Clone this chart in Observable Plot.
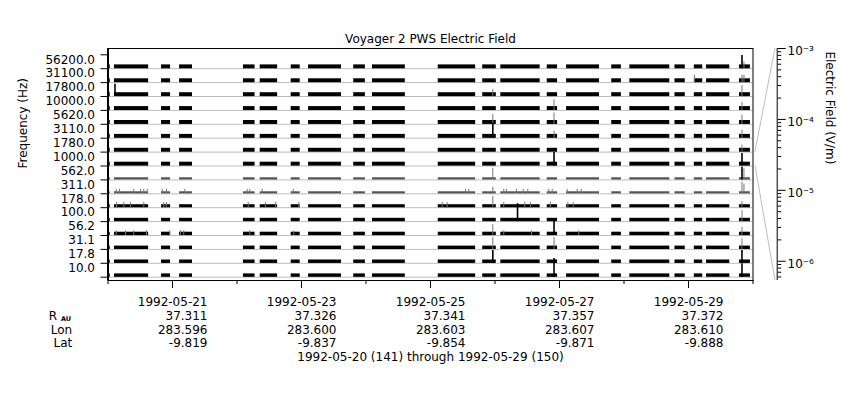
<!DOCTYPE html>
<html><head><meta charset="utf-8">
<script src="https://cdn.jsdelivr.net/npm/d3@7"></script>
<script src="https://cdn.jsdelivr.net/npm/@observablehq/plot@0.6"></script>
<style>
body{margin:0;background:#fff;font-family:"DejaVu Sans",sans-serif}
#chart{position:relative;width:860px;height:400px}
#chart > svg{position:absolute;left:0;top:0}
</style>
</head><body><div id="chart"></div>
<script>
// ---------- data ----------
const title = "Voyager 2 PWS Electric Field";
const yLabel = "Frequency (Hz)";
const zLabel = "Electric Field (V/m)";
const footer = "1992-05-20 (141) through 1992-05-29 (150)";
const timeDomain = ["1992-05-20T00:00Z", "1992-05-30T00:00Z"];
const fieldDomain = [5.35e-7, 1e-3];
const fieldMajor = [1e-6, 1e-5, 1e-4, 1e-3];
const refChannel = "1000.0";

const channels = ["56200.0","31100.0","17800.0","10000.0","5620.0","3110.0","1780.0","1000.0",
                  "562.0","311.0","178.0","100.0","56.2","31.1","17.8","10.0"];
const bandHigh = [4.2e-6,4.2e-6,4.2e-6,4.2e-6,4.2e-6,4.2e-6,4.2e-6,4.2e-6,
                  1.7e-6,1.6e-6,2.7e-6,3.2e-6,3.2e-6,3.2e-6,3.2e-6,3.2e-6];
const bandLow = 5e-7;

const segStart = ["1992-05-20T00:00Z","1992-05-20T02:24Z","1992-05-20T19:55Z","1992-05-21T02:38Z",
  "1992-05-22T02:24Z","1992-05-22T08:38Z","1992-05-22T20:10Z","1992-05-23T02:38Z","1992-05-23T19:26Z",
  "1992-05-24T02:24Z","1992-05-25T02:53Z","1992-05-25T19:26Z","1992-05-26T02:10Z","1992-05-26T19:26Z",
  "1992-05-27T02:38Z","1992-05-27T19:26Z","1992-05-28T02:10Z","1992-05-28T18:58Z","1992-05-29T02:10Z",
  "1992-05-29T06:43Z","1992-05-29T18:58Z"];
const segEnd = ["1992-05-20T00:50Z","1992-05-20T15:07Z","1992-05-20T23:17Z","1992-05-21T07:26Z",
  "1992-05-22T06:43Z","1992-05-22T15:07Z","1992-05-22T23:31Z","1992-05-23T14:53Z","1992-05-23T23:46Z",
  "1992-05-24T14:38Z","1992-05-25T16:48Z","1992-05-26T00:29Z","1992-05-26T16:48Z","1992-05-26T23:17Z",
  "1992-05-27T14:53Z","1992-05-27T23:02Z","1992-05-28T17:02Z","1992-05-28T22:48Z","1992-05-29T05:17Z",
  "1992-05-29T15:22Z","1992-05-29T23:02Z"];

const spikeTime = [
  "1992-05-20T02:36Z",
  "1992-05-25T23:11Z","1992-05-25T23:11Z","1992-05-25T23:11Z","1992-05-25T23:11Z","1992-05-25T23:11Z",
  "1992-05-25T23:11Z","1992-05-25T23:11Z","1992-05-25T23:11Z","1992-05-25T23:11Z",
  "1992-05-26T08:23Z",
  "1992-05-26T21:58Z","1992-05-26T21:58Z","1992-05-26T21:58Z","1992-05-26T21:58Z","1992-05-26T21:58Z",
  "1992-05-26T21:58Z","1992-05-26T21:58Z",
  "1992-05-29T02:14Z",
  "1992-05-29T19:54Z","1992-05-29T19:54Z","1992-05-29T19:54Z","1992-05-29T19:54Z","1992-05-29T19:54Z",
  "1992-05-29T19:54Z","1992-05-29T19:54Z","1992-05-29T19:54Z","1992-05-29T19:54Z","1992-05-29T19:54Z",
  "1992-05-29T19:54Z","1992-05-29T19:54Z","1992-05-29T19:54Z","1992-05-29T19:54Z","1992-05-29T19:54Z",
  "1992-05-29T19:54Z",
  "1992-05-29T20:38Z","1992-05-29T20:38Z","1992-05-29T20:38Z","1992-05-29T20:38Z",
  // small ticks, 311 Hz
  "1992-05-20T03:03Z","1992-05-20T04:17Z","1992-05-20T09:36Z","1992-05-20T12:06Z","1992-05-20T13:19Z",
  "1992-05-20T14:35Z","1992-05-20T20:10Z","1992-05-20T21:46Z","1992-05-21T04:35Z","1992-05-22T03:48Z",
  "1992-05-22T04:45Z","1992-05-22T09:23Z","1992-05-22T20:54Z","1992-05-25T13:02Z","1992-05-25T14:15Z",
  "1992-05-26T03:16Z","1992-05-26T04:16Z","1992-05-26T07:59Z","1992-05-26T10:29Z","1992-05-26T12:12Z",
  "1992-05-26T20:01Z","1992-05-26T21:17Z","1992-05-27T02:51Z","1992-05-27T06:35Z","1992-05-27T08:04Z",
  // small ticks, 178 Hz
  "1992-05-20T03:10Z","1992-05-20T05:53Z","1992-05-20T08:22Z","1992-05-20T13:19Z","1992-05-20T20:46Z",
  "1992-05-20T21:46Z","1992-05-22T04:10Z","1992-05-22T10:36Z","1992-05-22T14:19Z","1992-05-22T23:00Z",
  "1992-05-25T04:21Z","1992-05-25T06:13Z","1992-05-26T03:16Z","1992-05-26T11:05Z","1992-05-26T13:12Z",
  "1992-05-26T20:38Z","1992-05-27T03:06Z","1992-05-27T05:05Z",
  // small ticks, 56.2 Hz
  "1992-05-20T03:03Z","1992-05-20T06:31Z","1992-05-20T09:36Z","1992-05-20T14:19Z","1992-05-20T23:00Z",
  "1992-05-21T02:59Z","1992-05-21T04:12Z","1992-05-22T04:45Z","1992-05-22T21:09Z","1992-05-26T03:16Z",
  "1992-05-26T13:35Z","1992-05-27T07:10Z"
];
const spikeChannel = [
  "17800.0",
  "17800.0","5620.0","3110.0","562.0","311.0","178.0","56.2","31.1","17.8",
  "100.0",
  "10000.0","5620.0","3110.0","1000.0","56.2","31.1","10.0",
  "31100.0",
  "56200.0","31100.0","17800.0","10000.0","5620.0","3110.0","1780.0","1000.0","562.0","311.0",
  "178.0","100.0","56.2","31.1","17.8","10.0",
  "56200.0","31100.0","562.0","311.0",
  "311.0","311.0","311.0","311.0","311.0","311.0","311.0","311.0","311.0","311.0","311.0","311.0","311.0",
  "311.0","311.0","311.0","311.0","311.0","311.0","311.0","311.0","311.0","311.0","311.0","311.0",
  "178.0","178.0","178.0","178.0","178.0","178.0","178.0","178.0","178.0","178.0","178.0","178.0",
  "178.0","178.0","178.0","178.0","178.0","178.0",
  "56.2","56.2","56.2","56.2","56.2","56.2","56.2","56.2","56.2","56.2","56.2","56.2"
];
const spikePeak = [
  4.2e-4,
  2.4e-5,1.1e-4,1.5e-3,3.0e-4,1.9e-5,2.3e-4,2.0e-4,3.5e-4,5.5e-4,
  9.0e-3,
  1.7e-4,2.3e-4,2.4e-5,8.0e-4,5.4e-3,3.0e-4,1.3e-2,
  3.0e-5,
  6.8e-4,3.0e-5,2.0e-4,4.4e-5,7.0e-5,4.0e-5,2.4e-5,4.7e-4,5.4e-4,2.9e-4,
  1.4e-5,2.0e-4,4.0e-5,1.6e-4,5.5e-4,7.9e-4,
  2.2e-5,3.0e-5,2.0e-4,1.0e-4,
  6e-6,6e-6,6e-6,6e-6,6e-6,6e-6,6e-6,6e-6,6e-6,6e-6,6e-6,6e-6,6e-6,
  6e-6,6e-6,6e-6,6e-6,6e-6,6e-6,6e-6,6e-6,6e-6,6e-6,6e-6,6e-6,
  9e-6,9e-6,9e-6,9e-6,9e-6,9e-6,9e-6,9e-6,9e-6,9e-6,9e-6,9e-6,
  9e-6,9e-6,9e-6,9e-6,9e-6,9e-6,
  7e-6,7e-6,7e-6,7e-6,7e-6,7e-6,7e-6,7e-6,7e-6,7e-6,7e-6,7e-6
];

const tickDates = ["1992-05-21","1992-05-23","1992-05-25","1992-05-27","1992-05-29"];
const rAU = ["37.311","37.326","37.341","37.357","37.372"];
const lon = ["283.596","283.600","283.603","283.607","283.610"];
const lat = ["-9.819","-9.837","-9.854","-9.871","-9.888"];
const minorDates = ["1992-05-20","1992-05-22","1992-05-24","1992-05-26","1992-05-28","1992-05-30"];

// ---------- build ----------
const W = 860, H = 400, ML = 107.5, MR = 107.5;
const rowsTop = 54.3, rowsBottom = 276.7;
const xDom = timeDomain.map(d => new Date(d));
const font = {fontFamily: "'DejaVu Sans', sans-serif", fontSize: "12px", color: "#000", background: "transparent", overflow: "visible"};

const bands = [];
channels.forEach((ch, i) => segStart.forEach((s, j) =>
  bands.push({ch, x1: new Date(s), x2: new Date(segEnd[j]), lo: bandLow, hi: bandHigh[i]})));
const spikes = spikeTime.map((t, i) => ({ch: spikeChannel[i], t: new Date(t), peak: spikePeak[i]}));
const rows = channels.map(ch => ({ch}));

const plotB = Plot.plot({
  width: W, height: H, marginLeft: ML, marginRight: MR, marginTop: rowsTop, marginBottom: H - rowsBottom,
  style: font,
  x: {type: "utc", domain: xDom, axis: null, label: null},
  y: {type: "log", domain: fieldDomain, axis: null, label: null},
  fy: {domain: channels, range: [rowsTop, rowsBottom], round: false, padding: 0, paddingInner: 0, paddingOuter: 0, axis: null, label: null},
  marks: [
    Plot.ruleY(rows, {fy: "ch", y: () => fieldDomain[0], stroke: "#bdbdbd"}),
    Plot.rect(bands, {fy: "ch", x1: "x1", x2: "x2", y1: "lo", y2: "hi",
      fill: d => d.hi < 2e-6 ? "#555" : "#000"}),
    Plot.ruleX(spikes, {fy: "ch", x: "t", y1: () => bandLow, y2: "peak",
      stroke: d => d.peak >= 4e-4 ? "#000" : "#777",
      strokeWidth: d => d.peak >= 4e-4 ? 1.6 : 1}),
    Plot.ruleY(rows, {fy: "ch", y: () => fieldDomain[0], x1: () => xDom[0], x2: () => xDom[0], insetLeft: -7, stroke: "#000"}),
    Plot.ruleY(rows.slice(0, 1), {fy: "ch", y: () => fieldDomain[1], x1: () => xDom[0], x2: () => xDom[0], insetLeft: -7, stroke: "#000"}),
    Plot.axisFy({anchor: "left", tickSize: 0, tickPadding: 13, label: null, dy: -2, fontSize: 12})
  ]
});

const fieldMinor = [];
for (const p of [-7, -6, -5, -4]) for (let k = 2; k <= 9; k++) {
  const v = k * Math.pow(10, p);
  if (v >= fieldDomain[0] && v < fieldDomain[1]) fieldMinor.push(v);
}
const supMap = {"-": "\u207B", "0": "\u2070", "1": "\u00B9", "2": "\u00B2", "3": "\u00B3", "4": "\u2074",
  "5": "\u2075", "6": "\u2076", "7": "\u2077", "8": "\u2078", "9": "\u2079"};
const sup = d => "10" + String(Math.round(Math.log10(d))).split("").map(c => supMap[c]).join("");

const ephem = tickDates.map((d, i) => ({date: new Date(d), label: `${d}\n${rAU[i]}\n${lon[i]}\n${lat[i]}`}));
const LH = 1.14; // line height (em) of the ephemeris block

const plotA = Plot.plot({
  width: W, height: H, marginLeft: ML, marginRight: MR, marginTop: 48, marginBottom: 120,
  style: font,
  x: {type: "utc", domain: xDom, axis: null, label: null},
  y: {type: "log", domain: fieldDomain, axis: null, label: null},
  marks: [
    Plot.frame({stroke: "#000"}),
    Plot.ruleX([xDom[0]], {stroke: "#000", strokeWidth: 2}),
    Plot.axisX(minorDates.map(d => new Date(d)), {tickSize: 4, tickFormat: () => "", label: null}),
    Plot.axisX(tickDates.map(d => new Date(d)), {tickSize: 8, tickFormat: () => "", label: null}),
    Plot.text(ephem, {x: "date", text: "label", frameAnchor: "bottom", lineAnchor: "top",
      textAnchor: "end", dx: 35, dy: 16, lineHeight: LH, fontSize: 12}),
    Plot.text(["\nR"], {frameAnchor: "bottom-left", lineAnchor: "top", textAnchor: "end", dx: -51, dy: 16, lineHeight: LH, fontSize: 12}),
    Plot.text(["\n\nLon\nLat"], {frameAnchor: "bottom-left", lineAnchor: "top", textAnchor: "end", dx: -35.8, dy: 16, lineHeight: LH, fontSize: 12}),
    Plot.text(["AU"], {frameAnchor: "bottom-left", textAnchor: "end", dx: -37, dy: 40.5, fontSize: 6.5, fontWeight: "bold"}),
    Plot.text([footer], {frameAnchor: "bottom", dy: 80.5, fontSize: 12}),
    Plot.text([title], {frameAnchor: "top", dy: -14, fontSize: 12}),
    Plot.text([yLabel], {frameAnchor: "left", rotate: -90, dx: -85, dy: 4, fontSize: 12}),
    Plot.text([zLabel], {frameAnchor: "right", rotate: 90, dx: 77, fontSize: 12}),
    Plot.ruleX([xDom[1]], {stroke: "#000", dx: 24.2}),
    Plot.axisY(fieldMajor, {anchor: "right", dx: 24.2, tickSize: 8, tickFormat: () => "", label: null}),
    Plot.axisY(fieldMinor, {anchor: "right", dx: 24.2, tickSize: 3.5, tickFormat: () => "", label: null}),
    Plot.text(fieldMajor, {y: d => d, text: sup, frameAnchor: "right", textAnchor: "start", dx: 34.5, dy: 3, fontSize: 12})
  ]
});

const chart = document.getElementById("chart");
chart.append(plotB);
chart.append(plotA);

// connector lines from the reference row to the field axis, via the plots' scales
const fyS = plotB.scale("fy");
const yS = plotA.scale("y");
const xS = plotA.scale("x");
const rowTop = fyS.apply(refChannel);
const rowBot = rowTop + fyS.bandwidth;
const xr = xS.apply(xDom[1]);
const g = d3.select(plotA).append("g").attr("stroke", "#bdbdbd").attr("fill", "none");
g.append("line").attr("x1", xr + 2.5).attr("y1", rowTop).attr("x2", xr + 22.5).attr("y2", yS.apply(fieldDomain[1]));
g.append("line").attr("x1", xr + 2.5).attr("y1", rowBot).attr("x2", xr + 22.5).attr("y2", yS.apply(fieldDomain[0]));
</script></body></html>
